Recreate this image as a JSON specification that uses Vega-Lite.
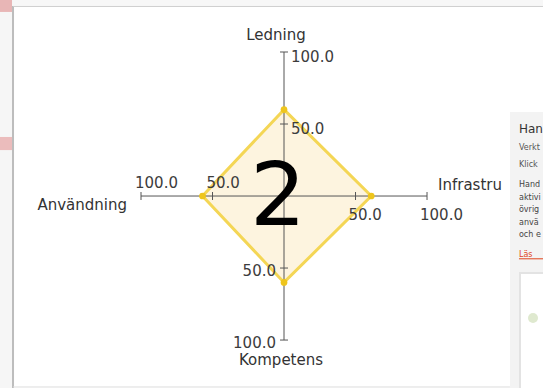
{
  "$schema": "https://vega.github.io/schema/vega-lite/v6.json",
  "width": 543,
  "height": 388,
  "autosize": {"type": "none"},
  "padding": 0,
  "background": "#ffffff",
  "config": {"view": {"stroke": null}, "text": {"font": "DejaVu Sans"}},
  "datasets": {
    "scores": [
      {"dimension": "Ledning", "value": 60, "x": 0, "y": 60, "order": 1},
      {"dimension": "Infrastruktur", "value": 61, "x": 61, "y": 0, "order": 2},
      {"dimension": "Kompetens", "value": 60, "x": 0, "y": -60, "order": 3},
      {"dimension": "Användning", "value": 57, "x": -57, "y": 0, "order": 4}
    ],
    "axes": [
      {"dimension": "Ledning", "side": "top", "line": "v", "x": 0, "y": 100},
      {"dimension": "Infrastruktur", "side": "right", "line": "h", "x": 100, "y": 0},
      {"dimension": "Kompetens", "side": "bottom", "line": "v", "x": 0, "y": -100},
      {"dimension": "Användning", "side": "left", "line": "h", "x": -100, "y": 0}
    ],
    "ticks": [
      {"side": "top", "x": 0, "y": 50, "label": "50.0"},
      {"side": "top", "x": 0, "y": 100, "label": "100.0"},
      {"side": "bottom", "x": 0, "y": -50, "label": "50.0"},
      {"side": "bottom", "x": 0, "y": -100, "label": "100.0"},
      {"side": "left", "x": -50, "y": 0, "label": "50.0"},
      {"side": "left", "x": -100, "y": 0, "label": "100.0"},
      {"side": "right", "x": 50, "y": 0, "label": "50.0"},
      {"side": "right", "x": 100, "y": 0, "label": "100.0"}
    ],
    "blank": [{}]
  },
  "layer": [
    {
      "data": {"name": "blank"},
      "mark": {"type": "rect", "fill": "#f6f6f6"},
      "encoding": {
        "x": {"datum": -198.6, "type": "quantitative", "scale": {"domain": [-198.6, 181.1], "nice": false, "zero": false}, "axis": null},
        "x2": {"datum": -189.5},
        "y": {"datum": 136.1, "type": "quantitative", "scale": {"domain": [-133.3, 136.1], "nice": false, "zero": false}, "axis": null},
        "y2": {"datum": -133.3}
      }
    },
    {
      "data": {"name": "blank"},
      "mark": {"type": "rect", "fill": "#e8b6b6"},
      "encoding": {
        "x": {"datum": -198.6, "type": "quantitative", "axis": null},
        "x2": {"datum": -190.2},
        "y": {"datum": 136.1, "type": "quantitative", "axis": null},
        "y2": {"datum": 127.8}
      }
    },
    {
      "data": {"name": "blank"},
      "mark": {"type": "rect", "fill": "#ebbcbc"},
      "encoding": {
        "x": {"datum": -198.6, "type": "quantitative", "axis": null},
        "x2": {"datum": -190.2},
        "y": {"datum": 41.0, "type": "quantitative", "axis": null},
        "y2": {"datum": 31.9}
      }
    },
    {
      "data": {"name": "blank"},
      "mark": {"type": "rect", "fill": "#f7f7f7"},
      "encoding": {
        "x": {"datum": -189.5, "type": "quantitative", "axis": null},
        "x2": {"datum": 181.1},
        "y": {"datum": 136.1, "type": "quantitative", "axis": null},
        "y2": {"datum": 131.7}
      }
    },
    {
      "data": {"name": "blank"},
      "mark": {"type": "rule", "stroke": "#bdbdbd", "strokeWidth": 2},
      "encoding": {
        "x": {"datum": -189.5, "type": "quantitative", "axis": null},
        "y": {"datum": 131.9, "type": "quantitative", "axis": null},
        "y2": {"datum": -133.3}
      }
    },
    {
      "data": {"name": "blank"},
      "mark": {"type": "rule", "stroke": "#cfcfcf", "strokeWidth": 1},
      "encoding": {
        "x": {"datum": -189.5, "type": "quantitative", "axis": null},
        "x2": {"datum": 181.1},
        "y": {"datum": 131.6, "type": "quantitative", "axis": null}
      }
    },
    {
      "data": {"name": "blank"},
      "mark": {"type": "rule", "stroke": "#dddddd", "strokeWidth": 1},
      "encoding": {
        "x": {"datum": -189.5, "type": "quantitative", "axis": null},
        "x2": {"datum": 158.0},
        "y": {"datum": -132.6, "type": "quantitative", "axis": null}
      }
    },
    {
      "data": {"name": "scores"},
      "mark": {"type": "line", "interpolate": "linear-closed", "fill": "#fdf4df", "stroke": "#f4d655", "strokeWidth": 3},
      "encoding": {
        "x": {"field": "x", "type": "quantitative", "axis": null},
        "y": {"field": "y", "type": "quantitative", "axis": null},
        "order": {"field": "order", "type": "quantitative"}
      }
    },
    {
      "data": {"name": "axes"},
      "mark": {"type": "line", "stroke": "#555555", "strokeWidth": 1},
      "encoding": {
        "x": {"field": "x", "type": "quantitative", "axis": null},
        "y": {"field": "y", "type": "quantitative", "axis": null},
        "detail": {"field": "line", "type": "nominal"},
        "order": {"field": "x", "type": "quantitative"}
      }
    },
    {
      "data": {"name": "scores"},
      "mark": {"type": "circle", "size": 45, "fill": "#eec51c", "opacity": 1},
      "encoding": {
        "x": {"field": "x", "type": "quantitative", "axis": null},
        "y": {"field": "y", "type": "quantitative", "axis": null}
      }
    },
    {
      "data": {"name": "ticks"},
      "transform": [{"filter": "datum.side === 'top' || datum.side === 'bottom'"}],
      "mark": {"type": "tick", "orient": "horizontal", "size": 8, "thickness": 1, "color": "#555555", "opacity": 1},
      "encoding": {
        "x": {"field": "x", "type": "quantitative", "axis": null},
        "y": {"field": "y", "type": "quantitative", "axis": null}
      }
    },
    {
      "data": {"name": "ticks"},
      "transform": [{"filter": "datum.side === 'left' || datum.side === 'right'"}],
      "mark": {"type": "tick", "orient": "vertical", "size": 8, "thickness": 1, "color": "#555555", "opacity": 1},
      "encoding": {
        "x": {"field": "x", "type": "quantitative", "axis": null},
        "y": {"field": "y", "type": "quantitative", "axis": null}
      }
    },
    {
      "data": {"name": "ticks"},
      "transform": [{"filter": "datum.side === 'top'"}],
      "mark": {"type": "text", "align": "left", "baseline": "middle", "dx": 7, "dy": 5, "fontSize": 15, "fill": "#3c3c3c"},
      "encoding": {
        "x": {"field": "x", "type": "quantitative", "axis": null},
        "y": {"field": "y", "type": "quantitative", "axis": null},
        "text": {"field": "label", "type": "nominal"}
      }
    },
    {
      "data": {"name": "ticks"},
      "transform": [{"filter": "datum.side === 'bottom'"}],
      "mark": {"type": "text", "align": "right", "baseline": "middle", "dx": -8, "dy": 3, "fontSize": 15, "fill": "#3c3c3c"},
      "encoding": {
        "x": {"field": "x", "type": "quantitative", "axis": null},
        "y": {"field": "y", "type": "quantitative", "axis": null},
        "text": {"field": "label", "type": "nominal"}
      }
    },
    {
      "data": {"name": "ticks"},
      "transform": [{"filter": "datum.side === 'left'"}],
      "mark": {"type": "text", "align": "left", "baseline": "middle", "dx": -6, "dy": -13, "fontSize": 15, "fill": "#3c3c3c"},
      "encoding": {
        "x": {"field": "x", "type": "quantitative", "axis": null},
        "y": {"field": "y", "type": "quantitative", "axis": null},
        "text": {"field": "label", "type": "nominal"}
      }
    },
    {
      "data": {"name": "ticks"},
      "transform": [{"filter": "datum.side === 'right'"}],
      "mark": {"type": "text", "align": "left", "baseline": "middle", "dx": -7, "dy": 19, "fontSize": 15, "fill": "#3c3c3c"},
      "encoding": {
        "x": {"field": "x", "type": "quantitative", "axis": null},
        "y": {"field": "y", "type": "quantitative", "axis": null},
        "text": {"field": "label", "type": "nominal"}
      }
    },
    {
      "data": {"name": "axes"},
      "transform": [{"filter": "datum.side === 'top'"}],
      "mark": {"type": "text", "align": "center", "baseline": "middle", "dx": -8, "dy": -17, "fontSize": 15, "fill": "#333333"},
      "encoding": {
        "x": {"field": "x", "type": "quantitative", "axis": null},
        "y": {"field": "y", "type": "quantitative", "axis": null},
        "text": {"field": "dimension", "type": "nominal"}
      }
    },
    {
      "data": {"name": "axes"},
      "transform": [{"filter": "datum.side === 'bottom'"}],
      "mark": {"type": "text", "align": "center", "baseline": "middle", "dx": -3, "dy": 20, "fontSize": 15, "fill": "#333333"},
      "encoding": {
        "x": {"field": "x", "type": "quantitative", "axis": null},
        "y": {"field": "y", "type": "quantitative", "axis": null},
        "text": {"field": "dimension", "type": "nominal"}
      }
    },
    {
      "data": {"name": "axes"},
      "transform": [{"filter": "datum.side === 'left'"}],
      "mark": {"type": "text", "align": "right", "baseline": "middle", "dx": -14, "dy": 9, "fontSize": 15, "fill": "#333333"},
      "encoding": {
        "x": {"field": "x", "type": "quantitative", "axis": null},
        "y": {"field": "y", "type": "quantitative", "axis": null},
        "text": {"field": "dimension", "type": "nominal"}
      }
    },
    {
      "data": {"name": "axes"},
      "transform": [{"filter": "datum.side === 'right'"}],
      "mark": {"type": "text", "align": "left", "baseline": "middle", "dx": 11, "dy": -11, "fontSize": 15, "fill": "#333333", "limit": 72, "ellipsis": "\u200b"},
      "encoding": {
        "x": {"field": "x", "type": "quantitative", "axis": null},
        "y": {"field": "y", "type": "quantitative", "axis": null},
        "text": {"field": "dimension", "type": "nominal"}
      }
    },
    {
      "data": {"name": "blank"},
      "mark": {"type": "text", "align": "center", "baseline": "alphabetic", "dx": -6, "dy": 29, "fontSize": 88, "fill": "#000000", "text": "2"},
      "encoding": {
        "x": {"datum": 0, "type": "quantitative", "axis": null},
        "y": {"datum": 0, "type": "quantitative", "axis": null}
      }
    },
    {
      "data": {"name": "blank"},
      "mark": {"type": "rect", "fill": "#f3f3f3"},
      "encoding": {
        "x": {"datum": 158.0, "type": "quantitative", "axis": null},
        "x2": {"datum": 181.1},
        "y": {"datum": 58.3, "type": "quantitative", "axis": null},
        "y2": {"datum": -133.3}
      }
    },
    {
      "data": {"name": "blank"},
      "mark": {"type": "rect", "fill": "#ffffff", "stroke": "#e3e3e3", "strokeWidth": 2},
      "encoding": {
        "x": {"datum": 165.0, "type": "quantitative", "axis": null},
        "x2": {"datum": 183.0},
        "y": {"datum": -53.5, "type": "quantitative", "axis": null},
        "y2": {"datum": -136.0}
      }
    },
    {
      "data": {"name": "blank"},
      "mark": {"type": "circle", "size": 100, "fill": "#dfe9cf", "opacity": 1},
      "encoding": {
        "x": {"datum": 174.1, "type": "quantitative", "axis": null},
        "y": {"datum": -84.7, "type": "quantitative", "axis": null}
      }
    },
    {
      "data": {"name": "blank"},
      "mark": {"type": "text", "align": "left", "baseline": "middle", "fontSize": 12, "fill": "#333333", "text": "Handlingsplan", "limit": 24, "ellipsis": "\u200b"},
      "encoding": {
        "x": {"datum": 164.3, "type": "quantitative", "axis": null},
        "y": {"datum": 46.5, "type": "quantitative", "axis": null}
      }
    },
    {
      "data": {"name": "blank"},
      "mark": {"type": "text", "align": "left", "baseline": "middle", "fontSize": 8, "fill": "#555555", "text": "Verktyget", "limit": 23, "ellipsis": "\u200b"},
      "encoding": {
        "x": {"datum": 164.3, "type": "quantitative", "axis": null},
        "y": {"datum": 33.3, "type": "quantitative", "axis": null}
      }
    },
    {
      "data": {"name": "blank"},
      "mark": {"type": "text", "align": "left", "baseline": "middle", "fontSize": 8, "fill": "#555555", "text": "Klicka", "limit": 23, "ellipsis": "\u200b"},
      "encoding": {
        "x": {"datum": 164.3, "type": "quantitative", "axis": null},
        "y": {"datum": 21.5, "type": "quantitative", "axis": null}
      }
    },
    {
      "data": {"name": "blank"},
      "mark": {"type": "text", "align": "left", "baseline": "top", "fontSize": 8, "lineHeight": 12.5, "fill": "#444444", "limit": 23, "ellipsis": "\u200b", "text": ["Handlingsplanen", "aktiviteter", "övriga", "användning", "och eller"]},
      "encoding": {
        "x": {"datum": 164.3, "type": "quantitative", "axis": null},
        "y": {"datum": 10.4, "type": "quantitative", "axis": null}
      }
    },
    {
      "data": {"name": "blank"},
      "mark": {"type": "text", "align": "left", "baseline": "middle", "fontSize": 8, "fill": "#e0441c", "text": "Läs mer", "limit": 23, "ellipsis": "\u200b"},
      "encoding": {
        "x": {"datum": 164.3, "type": "quantitative", "axis": null},
        "y": {"datum": -41.0, "type": "quantitative", "axis": null}
      }
    },
    {
      "data": {"name": "blank"},
      "mark": {"type": "rule", "stroke": "#e0441c", "strokeWidth": 1},
      "encoding": {
        "x": {"datum": 164.3, "type": "quantitative", "axis": null},
        "x2": {"datum": 181.1},
        "y": {"datum": -43.6, "type": "quantitative", "axis": null}
      }
    }
  ]
}
